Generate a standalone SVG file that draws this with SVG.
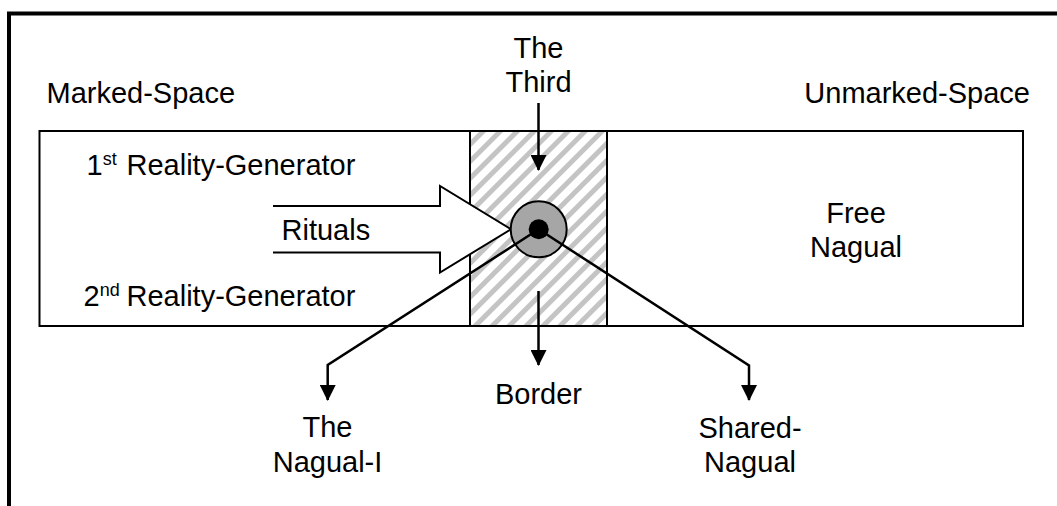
<svg xmlns="http://www.w3.org/2000/svg" width="1057" height="506" viewBox="0 0 1057 506">
  <style>
    text { font-family: "Liberation Sans", Arial, sans-serif; font-size: 29px; fill: #000; }
    .c { text-anchor: middle; }
    .sup { font-size: 18px; }
    .box { fill: #fff; stroke: #000; stroke-width: 2; }
    .conn { fill: none; stroke: #000; stroke-width: 2.5; }
  </style>
  <defs>
    <pattern id="hatch" width="12" height="12" patternUnits="userSpaceOnUse" patternTransform="rotate(45)">
      <rect width="12" height="12" fill="#fff"/>
      <rect x="0" y="0" width="5" height="12" fill="#c4c4c4"/>
    </pattern>
    <marker id="ah" viewBox="0 0 16 16" markerWidth="16" markerHeight="16" refX="15" refY="8" orient="auto" markerUnits="userSpaceOnUse">
      <path d="M0,0 L16,8 L0,16 z" fill="#000"/>
    </marker>
  </defs>

  <g id="frame">
    <path d="M9,506 V13.5 H1057" fill="none" stroke="#000" stroke-width="4"/>
  </g>

  <g id="space-rect">
    <rect class="box" x="39.5" y="131" width="983.5" height="195"/>
  </g>

  <g id="border-zone">
    <rect x="470" y="131" width="137" height="195" fill="url(#hatch)" stroke="#000" stroke-width="2"/>
  </g>

  <g id="rituals-arrow">
    <path d="M273,206 H440 V186 L511,229.3 L440,272.5 V252.5 H273" fill="#fff" stroke="#000" stroke-width="2"/>
    <text x="281.5" y="239.5">Rituals</text>
  </g>

  <g id="labels">
    <text x="46.5" y="102.5">Marked-Space</text>
    <text x="1030" y="102.5" text-anchor="end">Unmarked-Space</text>
    <text x="86.5" y="174.5">1<tspan class="sup" dy="-10">st</tspan><tspan x="126.5" dy="10">Reality-Generator</tspan></text>
    <text x="83.5" y="305.5">2<tspan class="sup" dy="-10">nd</tspan><tspan x="126.5" dy="10">Reality-Generator</tspan></text>
  </g>

  <g id="free-nagual">
    <text class="c" x="856" y="223">Free</text>
    <text class="c" x="856" y="257">Nagual</text>
  </g>

  <g id="the-third">
    <text class="c" x="538.5" y="57.5">The</text>
    <text class="c" x="538.5" y="91.5">Third</text>
  </g>

  <g id="border-label">
    <text class="c" x="538.5" y="404">Border</text>
  </g>

  <g id="nagual-i">
    <text class="c" x="327.5" y="437">The</text>
    <text class="c" x="327.5" y="472">Nagual-I</text>
  </g>

  <g id="shared-nagual">
    <text class="c" x="750" y="438">Shared-</text>
    <text class="c" x="750" y="472">Nagual</text>
  </g>

  <g id="core-ring">
    <circle cx="538.7" cy="229.3" r="28" fill="#a6a6a6" stroke="#000" stroke-width="2"/>
  </g>

  <g id="connectors">
    <path class="conn" d="M538.5,103 V170" marker-end="url(#ah)"/>
    <path class="conn" d="M538.5,291 V365" marker-end="url(#ah)"/>
    <path class="conn" d="M538.7,229.3 L327.7,365 V400" marker-end="url(#ah)"/>
    <path class="conn" d="M538.7,229.3 L749,365.5 V400" marker-end="url(#ah)"/>
  </g>

  <g id="core-dot">
    <circle cx="538.7" cy="229.3" r="10" fill="#000"/>
  </g>
</svg>
